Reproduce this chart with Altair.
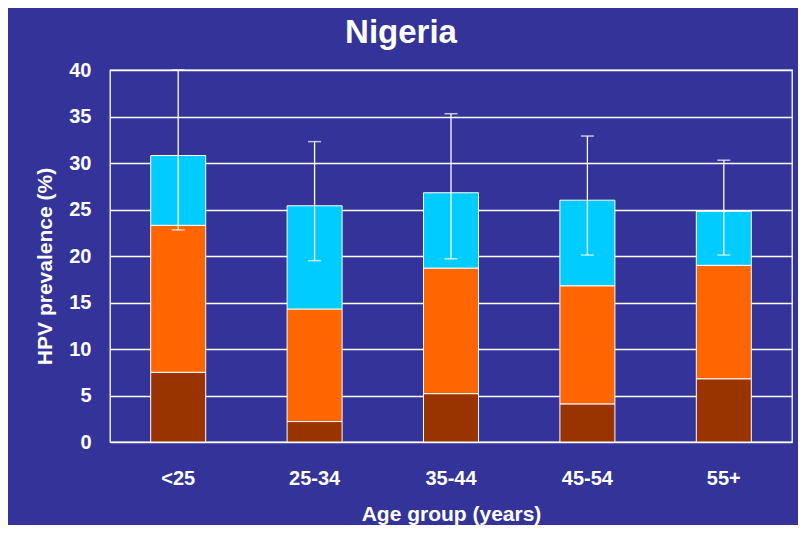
import altair as alt
import pandas as pd

# --- data ---
ages = ["<25", "25-34", "35-44", "45-54", "55+"]
brown_top = [7.5, 2.2, 5.2, 4.1, 6.8]
orange_top = [23.3, 14.3, 18.7, 16.8, 19.0]
cyan_top = [30.8, 25.4, 26.8, 26.0, 24.8]
ci_low = [22.8, 19.5, 19.7, 20.1, 20.1]
ci_high = [40.0, 32.3, 35.3, 32.9, 30.3]
y_ticks = [0, 5, 10, 15, 20, 25, 30, 35, 40]

segments = ["brown", "orange", "cyan"]
seg_colors = ["#993300", "#FF6600", "#00CCFF"]

rows = []
for i, a in enumerate(ages):
    levels = [0, brown_top[i], orange_top[i], cyan_top[i]]
    for j, s in enumerate(segments):
        rows.append({"age": a, "seg": s, "order": j, "y0": levels[j], "y1": levels[j + 1]})
bars_df = pd.DataFrame(rows)
err_df = pd.DataFrame({"age": ages, "lo": ci_low, "hi": ci_high})

FONT = "Liberation Sans"
BG = "#333399"

x_enc = alt.X(
    "age:N",
    sort=ages,
    axis=alt.Axis(
        title="Age group (years)",
        labelAngle=0,
        grid=False,
        labelBaseline="alphabetic",
        labelPadding=42,
        titleBaseline="alphabetic",
        titleY=78,
        titleFontSize=21,
    ),
)


def y_enc(field):
    return alt.Y(
        field,
        type="quantitative",
        scale=alt.Scale(domain=[0, 40], nice=False),
        axis=alt.Axis(
            values=y_ticks,
            title="HPV prevalence (%)",
            labelPadding=19,
            titleAngle=270,
            titleX=-65,
            titleY=196,
            titleAlign="center",
            titleBaseline="middle",
            titleFontSize=21,
        ),
    )


bars = alt.Chart(bars_df).mark_bar(size=55, stroke="white", strokeWidth=1).encode(
    x=x_enc,
    y=y_enc("y0"),
    y2="y1:Q",
    color=alt.Color("seg:N", scale=alt.Scale(domain=segments, range=seg_colors), legend=None),
)

rule = alt.Chart(err_df).mark_rule(color="white", strokeWidth=1.3).encode(
    x=x_enc, y=y_enc("lo"), y2="hi:Q"
)
cap_lo = alt.Chart(err_df).mark_tick(color="white", size=13, thickness=1.5).encode(
    x=x_enc, y=y_enc("lo")
)
cap_hi = alt.Chart(err_df).mark_tick(color="white", size=13, thickness=1.5).encode(
    x=x_enc, y=y_enc("hi")
)

chart = (
    alt.layer(bars, rule, cap_lo, cap_hi)
    .properties(
        width=682,
        height=372,
        autosize=alt.AutoSizeParams(type="none"),
        padding={"left": 102, "top": 62, "right": 6, "bottom": 83},
        background=BG,
        title=alt.TitleParams(
            "Nigeria",
            font=FONT,
            fontSize=33,
            fontWeight="bold",
            color="white",
            anchor="middle",
            dx=-50,
            offset=10,
        ),
    )
    .configure_view(stroke="white", strokeWidth=1.3)
    .configure_axis(
        grid=True,
        gridColor="white",
        gridWidth=1.3,
        gridOpacity=1,
        domain=False,
        ticks=False,
        tickSize=0,
        labelFont=FONT,
        labelFontSize=20,
        labelFontWeight="bold",
        labelColor="white",
        titleFont=FONT,
        titleFontWeight="bold",
        titleColor="white",
    )
)

chart.save("out.html", embed_options={"renderer": "svg", "actions": False})
